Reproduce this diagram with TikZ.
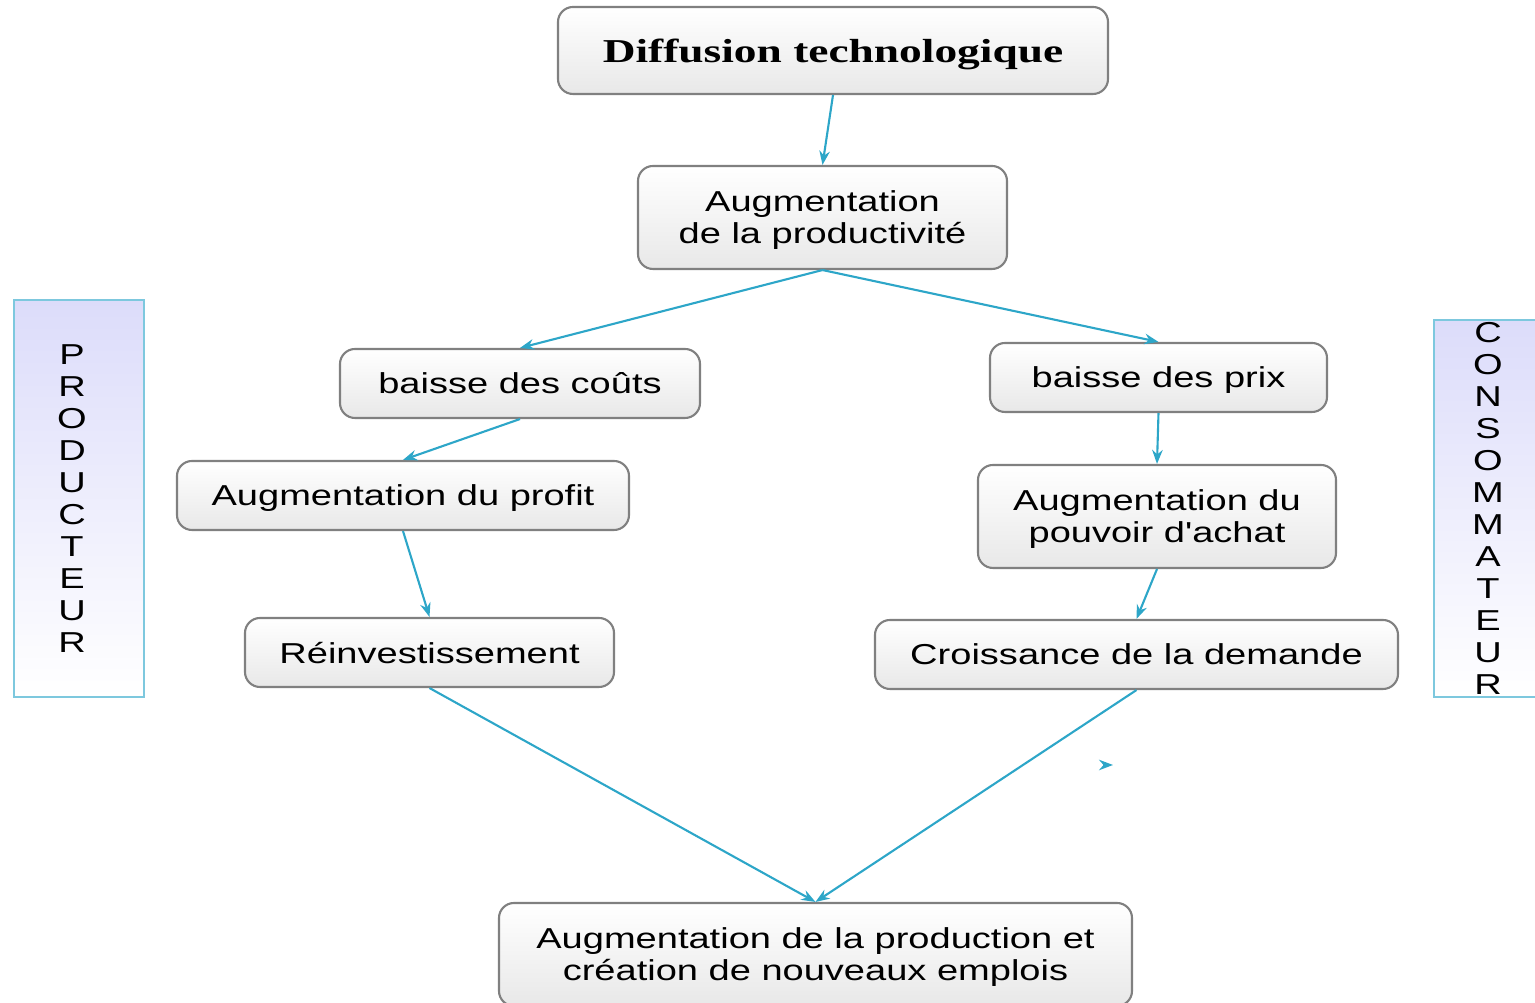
\documentclass[tikz,border=0pt]{standalone}
\usepackage{fontspec}
\usetikzlibrary{arrows.meta}
\newfontfamily\boitefont[FakeStretch=1.32]{Liberation Sans}
\newfontfamily\titrefont[FakeStretch=1.36]{Liberation Serif}
\definecolor{cyanfleche}{RGB}{45,166,200}
\definecolor{bord}{RGB}{128,128,128}
\definecolor{bordcote}{RGB}{125,200,222}
\definecolor{lavande}{RGB}{220,220,250}

\begin{document}
\begin{tikzpicture}
\tikzset{boite/.style={draw=bord, line width=0.6pt, rounded corners=0.15cm, top color=white, bottom color=gray!18, align=center, inner sep=0pt, text depth=0pt, font=\boitefont\fontsize{8.2}{9.1}\selectfont}}
\tikzset{cote/.style={draw=bordcote, line width=0.7pt, top color=lavande, bottom color=white, inner sep=0pt}}
\tikzset{lettres/.style={align=center, inner sep=0pt, font=\boitefont\fontsize{8.2}{9.1}\selectfont}}
\tikzset{fleche/.style={draw=cyanfleche, line width=0.6pt, -{Stealth[length=4pt,width=3pt]}}}
\useasboundingbox (0,0) rectangle (15.35,-10.03);
\clip (0,0) rectangle (15.35,-10.03);
\node[boite, minimum width=5.5cm, minimum height=0.87cm, font=\titrefont\bfseries\fontsize{9.5}{11}\selectfont] (B1) at (8.33,-0.505) {Diffusion technologique};
\node[boite, minimum width=3.69cm, minimum height=1.03cm] (B2) at (8.225,-2.175) {Augmentation\\de la productivité};
\node[boite, minimum width=3.6cm, minimum height=0.69cm] (B3) at (5.2,-3.835) {baisse des coûts};
\node[boite, minimum width=3.37cm, minimum height=0.69cm] (B4) at (11.585,-3.775) {baisse des prix};
\node[boite, minimum width=4.52cm, minimum height=0.69cm] (B5) at (4.03,-4.955) {Augmentation du profit};
\node[boite, minimum width=3.58cm, minimum height=1.03cm] (B6) at (11.57,-5.165) {Augmentation du\\pouvoir d'achat};
\node[boite, minimum width=3.69cm, minimum height=0.69cm] (B7) at (4.295,-6.525) {Réinvestissement};
\node[boite, minimum width=5.23cm, minimum height=0.69cm] (B8) at (11.365,-6.545) {Croissance de la demande};
\node[boite, minimum width=6.33cm, minimum height=1.03cm] (B9) at (8.155,-9.545) {Augmentation de la production et\\création de nouveaux emplois};
\node[cote, minimum width=1.3cm, minimum height=3.97cm] (S1) at (0.79,-4.985) {};
\node[cote, minimum width=1.08cm, minimum height=3.77cm] (S2) at (14.88,-5.085) {};
\node[lettres] (L1) at (0.72,-4.985) {P\\R\\O\\D\\U\\C\\T\\E\\U\\R};
\node[lettres] (L2) at (14.88,-5.085) {C\\O\\N\\S\\O\\M\\M\\A\\T\\E\\U\\R};
\coordinate (T1) at (11.03,-7.65);
\coordinate (T2) at (11.13,-7.65);
\draw[fleche] (B1.south) -- (B2.north);
\draw[fleche] (B2.south) -- (B3.north);
\draw[fleche] (B2.south) -- (B4.north);
\draw[fleche] (B3.south) -- (B5.north);
\draw[fleche] (B5.south) -- (B7.north);
\draw[fleche] (B4.south) -- (B6.north);
\draw[fleche] (B6.south) -- (B8.north);
\draw[fleche] (B7.south) -- (B9.north);
\draw[fleche] (B8.south) -- (B9.north);
\draw[fleche] (T1) -- (T2);
\end{tikzpicture}
\end{document}
